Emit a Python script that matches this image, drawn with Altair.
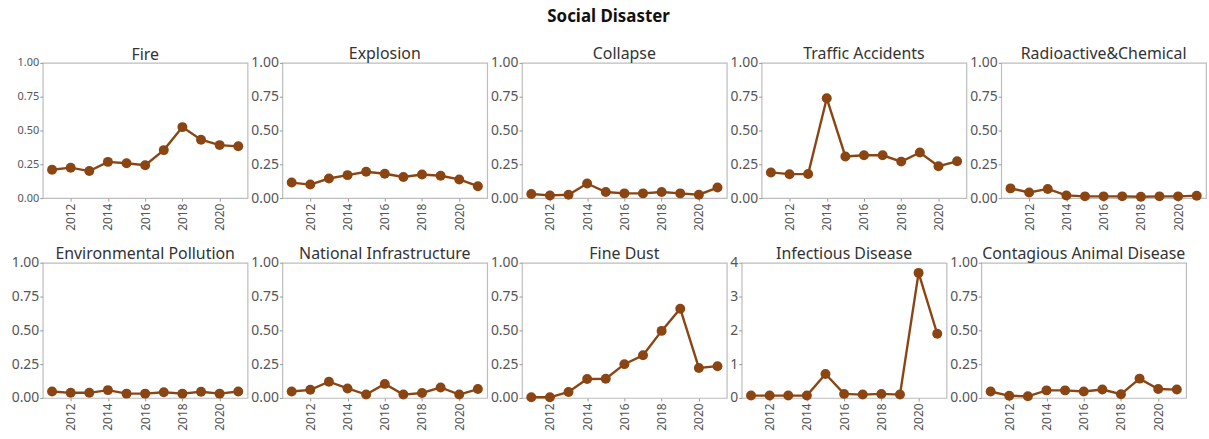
import altair as alt
import pandas as pd

# Years on the x axis
years = list(range(2011, 2022))

# Yearly values for each social disaster type
fire = [0.21, 0.225, 0.20, 0.268, 0.258, 0.243, 0.355, 0.525, 0.432, 0.392, 0.383]
explosion = [0.115, 0.10, 0.145, 0.17, 0.195, 0.18, 0.156, 0.175, 0.165, 0.138, 0.088]
collapse = [0.03, 0.02, 0.025, 0.108, 0.045, 0.035, 0.035, 0.045, 0.035, 0.025, 0.078]
traffic = [0.19, 0.177, 0.178, 0.738, 0.308, 0.317, 0.317, 0.27, 0.337, 0.236, 0.272]
radio_chem = [0.072, 0.042, 0.068, 0.02, 0.013, 0.013, 0.013, 0.01, 0.013, 0.013, 0.018]
env_pollution = [0.048, 0.038, 0.038, 0.058, 0.032, 0.032, 0.042, 0.032, 0.046, 0.032, 0.048]
infrastructure = [0.048, 0.06, 0.12, 0.07, 0.025, 0.104, 0.025, 0.037, 0.078, 0.025, 0.066]
fine_dust = [0.005, 0.005, 0.044, 0.14, 0.142, 0.25, 0.316, 0.496, 0.66, 0.222, 0.235]
infectious = [0.07, 0.07, 0.07, 0.07, 0.71, 0.12, 0.1, 0.12, 0.1, 3.7, 1.9]
animal = [0.048, 0.016, 0.012, 0.056, 0.056, 0.048, 0.062, 0.028, 0.143, 0.066, 0.062]

panels = [
    ("Fire", fire, 1.0),
    ("Explosion", explosion, 1.0),
    ("Collapse", collapse, 1.0),
    ("Traffic Accidents", traffic, 1.0),
    ("Radioactive&Chemical", radio_chem, 1.0),
    ("Environmental Pollution", env_pollution, 1.0),
    ("National Infrastructure", infrastructure, 1.0),
    ("Fine Dust", fine_dust, 1.0),
    ("Infectious Disease", infectious, 4.0),
    ("Contagious Animal Disease", animal, 1.0),
]

FONT = "Noto Sans"
BROWN = "#8B4513"
year_ticks = [2012, 2014, 2016, 2018, 2020]


def panel(name, values, ymax, small_labels=False):
    df = pd.DataFrame({"year": years, "value": values})
    if ymax == 4.0:
        y_ticks = [0, 1, 2, 3, 4]
        y_fmt = "d"
    else:
        y_ticks = [0, 0.25, 0.5, 0.75, 1.0]
        y_fmt = ".2f"
    x = alt.X(
        "year:Q",
        scale=alt.Scale(domain=[2010.5, 2021.5], nice=False, zero=False),
        axis=alt.Axis(values=year_ticks, format="d", labelAngle=270, title=None,
                      labelFontSize=12, tickSize=3, labelPadding=2),
    )
    y = alt.Y(
        "value:Q",
        scale=alt.Scale(domain=[0, ymax], nice=False),
        axis=alt.Axis(values=y_ticks, format=y_fmt, title=None,
                      labelFontSize=11 if small_labels else 14,
                      tickSize=3, labelPadding=1),
    )
    base = alt.Chart(df).encode(x=x, y=y)
    line = base.mark_line(color=BROWN, strokeWidth=2.4)
    pts = base.mark_circle(color=BROWN, size=100, opacity=1)
    return (line + pts).properties(
        width=206, height=136,
        title=alt.TitleParams(name, fontSize=16, font=FONT, fontWeight="normal",
                              color="#333333", offset=-6),
    )


charts = [panel(n, v, m, small_labels=(i == 0)) for i, (n, v, m) in enumerate(panels)]
row1 = alt.hconcat(*charts[:5], spacing=1)
row2 = alt.hconcat(*charts[5:], spacing=1)

chart = alt.vconcat(row1, row2, spacing=13).properties(
    title=alt.TitleParams("Social Disaster", fontSize=17, fontWeight="bold",
                          font=FONT, anchor="middle", color="#111111", offset=20),
    padding={"left": 10, "top": 6, "right": 2, "bottom": 2},
).configure_view(
    stroke="#bdbdbd", strokeWidth=1.2
).configure_axis(
    grid=False, domain=False, tickColor="#999999", labelColor="#555555",
    labelFont=FONT
)

chart.save("out.html", embed_options={"renderer": "svg", "actions": False})
